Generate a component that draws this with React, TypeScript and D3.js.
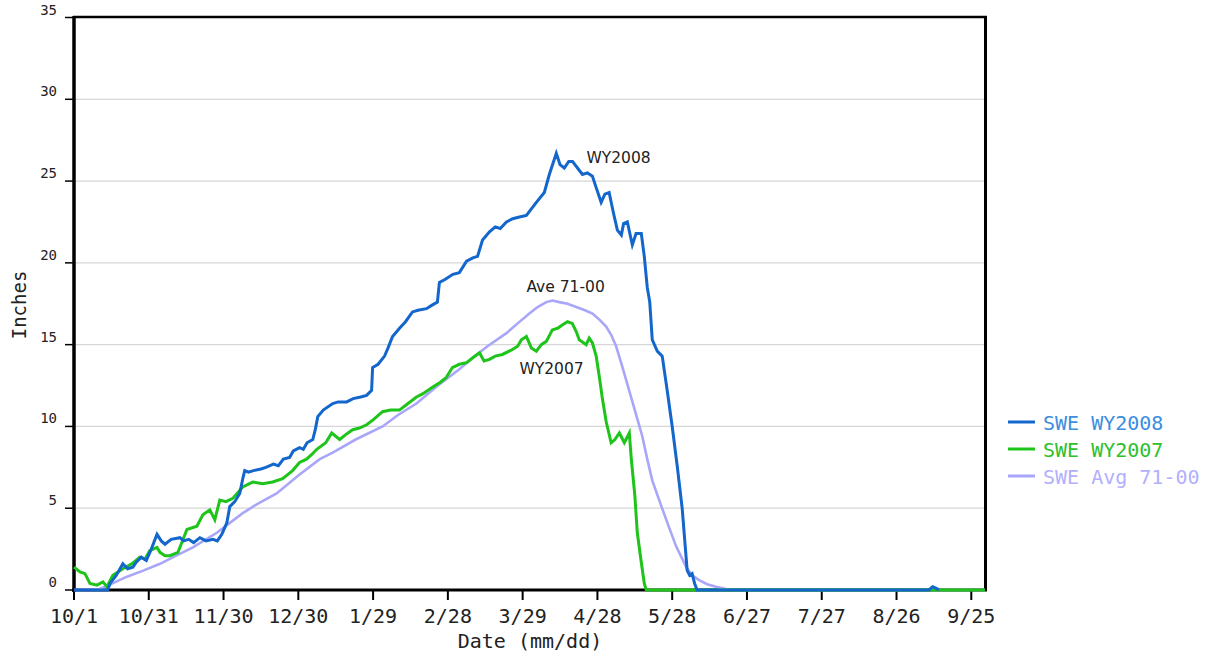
import React, { useEffect } from 'react';
import * as d3 from 'd3';

// Days since 10/1 for the x ticks, with their labels
const xTickDays = [0, 30, 60, 90, 120, 150, 180, 210, 240, 270, 300, 330, 360];
const xTickLabels = ['10/1', '10/31', '11/30', '12/30', '1/29', '2/28', '3/29', '4/28', '5/28', '6/27', '7/27', '8/26', '9/25'];
const yTicks = [0, 5, 10, 15, 20, 25, 30, 35];

// [day since 10/1, SWE inches]
const wy2008: [number, number][] = [
  [0, 0], [13.5, 0], [14.5, 0.4], [17, 0.9], [19.6, 1.6], [21.5, 1.3], [23.6, 1.4], [25, 1.7], [27, 2.0], [29, 1.8],
  [31, 2.5], [33.3, 3.4], [35, 3.0], [36.5, 2.8], [39, 3.1], [42.5, 3.2], [44, 3.0], [46, 3.1], [48, 2.9], [50.5, 3.2],
  [53, 3.0], [55.7, 3.1], [57.5, 3.0], [59.3, 3.4], [61.3, 4.1], [62.5, 5.1], [64.5, 5.4], [66.5, 5.9], [67.7, 6.8],
  [68.5, 7.3], [70, 7.2], [72, 7.3], [75, 7.4], [77, 7.5], [80, 7.7], [82, 7.6], [84, 8.0], [86.5, 8.1], [88, 8.5],
  [90.5, 8.7], [92, 8.6], [93.5, 9.0], [95.8, 9.2], [96.8, 9.8], [97.8, 10.6], [100, 11.0], [103.8, 11.4],
  [106, 11.5], [109.4, 11.5], [112, 11.7], [115, 11.8], [117.4, 11.9], [119.4, 12.2], [119.8, 13.6], [122, 13.8],
  [124.6, 14.3], [126, 14.8], [127.8, 15.5], [130.6, 16.0], [133, 16.4], [135.8, 17.0], [138, 17.1], [141.4, 17.2],
  [143.5, 17.4], [145.8, 17.6], [146.6, 18.8], [149, 19.0], [152, 19.3], [154.6, 19.4], [157.5, 20.1], [160, 20.3],
  [161.9, 20.4], [163.9, 21.4], [166.7, 21.9], [169, 22.2], [171, 22.1], [173.5, 22.5], [176, 22.7], [178.7, 22.8],
  [181.5, 22.9], [183.5, 23.3], [185.5, 23.7], [188.7, 24.3], [190.7, 25.4], [193.5, 26.7], [195, 26.0],
  [196.7, 25.8], [198.5, 26.2], [200, 26.2], [202, 25.8], [204, 25.4], [206, 25.5], [208, 25.3], [209.5, 24.6],
  [211.5, 23.7], [213, 24.2], [214.7, 24.3], [216.5, 23.0], [218, 22.0], [219.6, 21.7], [220.5, 22.4], [222, 22.5],
  [224, 21.1], [225.5, 21.8], [227.6, 21.8], [228.8, 20.4], [230, 18.5], [231, 17.6], [232, 15.3], [234, 14.6],
  [236, 14.3], [238, 12.2], [240, 10.0], [242, 7.6], [244, 5.0], [246, 1.2], [247, 0.9], [248, 1.0], [249, 0.4],
  [250, 0], [343, 0], [344.5, 0.2], [346, 0.1], [347, 0]
];

const wy2007: [number, number][] = [
  [0, 1.4], [2.4, 1.1], [4.4, 1.0], [6.4, 0.4], [9.2, 0.3], [11.6, 0.5], [13.2, 0.2], [15.6, 0.9], [19.6, 1.3],
  [23.2, 1.6], [26.4, 2.0], [28.5, 1.9], [30.4, 2.4], [33.3, 2.6], [34.5, 2.3], [36.5, 2.1], [38.5, 2.1],
  [41.7, 2.3], [43.5, 3.0], [45.3, 3.7], [49.3, 3.9], [51.7, 4.6], [54.5, 4.9], [56.5, 4.3], [58.5, 5.5],
  [61, 5.4], [63.7, 5.6], [67.7, 6.3], [71.7, 6.6], [75.7, 6.5], [79.7, 6.6], [83.7, 6.8], [87.7, 7.3], [90.5, 7.8],
  [93.3, 8.0], [95.5, 8.3], [97.4, 8.6], [101, 9.0], [103.4, 9.6], [106.6, 9.2], [109, 9.5], [111.8, 9.8],
  [114.5, 9.9], [117.4, 10.1], [120, 10.4], [123.8, 10.9], [127, 11.0], [130.6, 11.0], [134, 11.4], [137.4, 11.8],
  [140, 12.0], [143.8, 12.4], [147, 12.7], [149.4, 13.0], [151.8, 13.6], [154.6, 13.8], [157.5, 13.9],
  [160, 14.2], [162.7, 14.5], [164.5, 14.0], [166.7, 14.1], [169, 14.3], [171.9, 14.4], [175.9, 14.7],
  [178, 14.9], [179.5, 15.3], [181.5, 15.5], [183.5, 14.8], [185.5, 14.6], [187.5, 15.0], [189.5, 15.2],
  [191.9, 15.9], [194, 16.0], [195.9, 16.2], [198, 16.4], [199.9, 16.3], [201.5, 15.8], [202.7, 15.3],
  [205.5, 15.0], [206.7, 15.4], [208, 15.1], [209.5, 14.3], [210.8, 13.0], [211.9, 11.8], [213.5, 10.3],
  [215.5, 9.0], [217, 9.2], [218.8, 9.6], [220.8, 9.0], [222.8, 9.6], [223.6, 8.0], [225, 5.8], [226, 3.5],
  [227.5, 1.8], [228.8, 0.4], [229.6, 0], [365.5, 0]
];

const avg7100: [number, number][] = [
  [0, 0], [10, 0.05], [14, 0.3], [21, 0.8], [28, 1.2], [34.5, 1.6], [41, 2.1], [47.7, 2.6], [57.3, 3.5],
  [67.7, 4.7], [74, 5.3], [81.3, 5.9], [90, 7.0], [98.6, 8.0], [103.8, 8.4], [113, 9.2], [123.8, 10.0],
  [130, 10.7], [137.4, 11.4], [146, 12.5], [154.6, 13.5], [160, 14.2], [165.9, 14.9], [173.5, 15.7],
  [178, 16.3], [182.7, 16.9], [186, 17.3], [189.5, 17.6], [192, 17.7], [194.7, 17.6], [198, 17.5],
  [201.5, 17.3], [205, 17.1], [208, 16.9], [211, 16.5], [213.5, 16.1], [215.5, 15.6], [217.5, 14.9],
  [219.5, 13.9], [221.6, 12.8], [225, 11.0], [228, 9.4], [230, 8.0], [232, 6.7], [235, 5.4], [237.6, 4.3],
  [241.5, 2.7], [245.6, 1.4], [248, 0.9], [250.8, 0.6], [254, 0.35], [257.6, 0.2], [262, 0.05], [265, 0],
  [365.5, 0]
];

const legendLabels = ['SWE WY2008', 'SWE WY2007', 'SWE Avg 71-00'];
const lineColors = ['#1266cc', '#1ec41a', '#a9a6fa'];
const legendTextColors = ['#3b8ee0', '#2fc02b', '#b2b0fc'];

const annotations: { text: string; day: number; value: number }[] = [
  { text: 'WY2008', day: 205.6, value: 26.1 },
  { text: 'Ave 71-00', day: 181.5, value: 18.2 },
  { text: 'WY2007', day: 178.7, value: 13.2 }
];

const W = 1208;
const H = 656;
const mono = '"DejaVu Sans Mono", monospace';
const sans = '"DejaVu Sans", Verdana, sans-serif';

export default function App() {
  useEffect(() => {
    document.body.style.margin = '0';
  }, []);

  const x = d3.scaleLinear().domain([0, 365.5]).range([74, 985]);
  const y = d3.scaleLinear().domain([0, 35]).range([590, 17.5]);
  const line = d3
    .line<[number, number]>()
    .x((d) => x(d[0]))
    .y((d) => y(d[1]));

  const series = [avg7100, wy2007, wy2008];
  const seriesColors = [lineColors[2], lineColors[1], lineColors[0]];
  const seriesWidths = [2.6, 3, 3];

  return (
    <svg width={W} height={H} style={{ position: 'absolute', left: 0, top: 0, background: '#fff' }}>
      <rect x={0} y={0} width={W} height={H} fill="#fff" />
      {/* grid */}
      {yTicks
        .filter((t) => t > 0 && t < 35)
        .map((t) => (
          <line key={'g' + t} x1={x(0)} x2={x(365.5)} y1={y(t)} y2={y(t)} stroke="#d6d6d6" strokeWidth={1.2} />
        ))}
      {/* y ticks and labels */}
      {yTicks.map((t) => (
        <g key={'y' + t}>
          <line x1={65} x2={74} y1={y(t)} y2={y(t)} stroke="#000" strokeWidth={1.5} />
          <text x={57} y={y(t) - 3} textAnchor="end" fontFamily={mono} fontSize={14} fill="#222">
            {t}
          </text>
        </g>
      ))}
      {/* x ticks and labels */}
      {xTickDays.map((d, i) => (
        <g key={'x' + d}>
          <line x1={x(d)} x2={x(d)} y1={590} y2={600} stroke="#000" strokeWidth={2} />
          <text x={x(d)} y={623} textAnchor="middle" fontFamily={mono} fontSize={20} fill="#222">
            {xTickLabels[i]}
          </text>
        </g>
      ))}
      {/* frame */}
      <line x1={73} x2={987} y1={17} y2={17} stroke="#000" strokeWidth={2.5} />
      <line x1={985.5} x2={985.5} y1={16} y2={591} stroke="#000" strokeWidth={3} />
      <line x1={74} x2={74} y1={16} y2={592} stroke="#000" strokeWidth={3.5} />
      <line x1={72} x2={987} y1={590} y2={590} stroke="#000" strokeWidth={3} />
      {/* series */}
      {series.map((s, i) => (
        <path
          key={'s' + i}
          d={line(s) || ''}
          fill="none"
          stroke={seriesColors[i]}
          strokeWidth={seriesWidths[i]}
          strokeLinejoin="miter"
        />
      ))}
      {/* annotations */}
      {annotations.map((a) => (
        <text key={a.text} x={x(a.day)} y={y(a.value)} fontFamily={sans} fontSize={15.5} fill="#222">
          {a.text}
        </text>
      ))}
      {/* axis titles */}
      <text x={530} y={648} textAnchor="middle" fontFamily={mono} fontSize={20} fill="#222">
        Date (mm/dd)
      </text>
      <text
        transform="translate(26,305) rotate(-90)"
        textAnchor="middle"
        fontFamily={mono}
        fontSize={19}
        fill="#222"
      >
        Inches
      </text>
      {/* legend */}
      {legendLabels.map((l, i) => {
        const ly = 423 + i * 27;
        return (
          <g key={l}>
            <line x1={1008} x2={1035} y1={ly - 1} y2={ly - 1} stroke={lineColors[i]} strokeWidth={3} />
            <text x={1043} y={ly + 7} fontFamily={mono} fontSize={20} fill={legendTextColors[i]}>
              {l}
            </text>
          </g>
        );
      })}
    </svg>
  );
}
